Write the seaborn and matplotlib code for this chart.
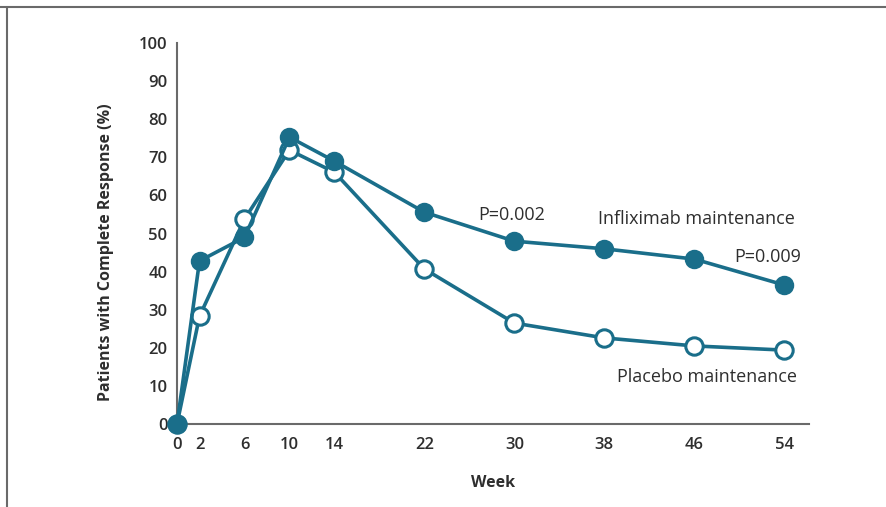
import numpy as np
import pandas as pd
import seaborn as sns
import matplotlib.pyplot as plt
from matplotlib.lines import Line2D

# values
weeks = [0, 2, 6, 10, 14, 22, 30, 38, 46, 54]
infliximab = [0, 42.8, 49.0, 75.3, 69.0, 55.6, 48.0, 46.0, 43.3, 36.5]
placebo = [0, 28.3, 53.8, 71.9, 66.1, 40.7, 26.5, 22.6, 20.5, 19.4]
y_ticks = list(range(0, 101, 10))

sns.set_style("white")
plt.rcParams['font.family'] = ['Open Sans', 'DejaVu Sans']

teal = '#1a6e8a'
grey = '#6a6a6a'
txt = '#2e2e2e'

df_inf = pd.DataFrame({'week': weeks, 'pct': infliximab})
df_pla = pd.DataFrame({'week': weeks, 'pct': placebo})

fig = plt.figure(figsize=(8.86, 5.07), dpi=100)
ax = fig.add_axes([0.1998, 0.1637, 0.913 - 0.1998, 0.915 - 0.1637])

sns.lineplot(data=df_pla, x='week', y='pct', ax=ax, color=teal, linewidth=2.6,
             marker='o', markersize=12.5, markerfacecolor='white',
             markeredgecolor=teal, markeredgewidth=2.2, clip_on=False, zorder=3)
sns.lineplot(data=df_inf, x='week', y='pct', ax=ax, color=teal, linewidth=2.6,
             marker='o', markersize=12.5, markerfacecolor=teal,
             markeredgecolor=teal, markeredgewidth=1.5, clip_on=False, zorder=4)

ax.set_xlim(0, 56.2)
ax.set_ylim(0, 100)
ax.set_xticks(weeks)
ax.set_yticks(y_ticks)
ax.tick_params(axis='both', direction='out', length=6, width=1.5, color=grey,
               labelsize=12, labelcolor=txt, pad=1)
ax.tick_params(axis='x', pad=3)
for lab in ax.get_xticklabels() + ax.get_yticklabels():
    lab.set_fontweight('semibold')

for side in ['top', 'right']:
    ax.spines[side].set_visible(False)
for side in ['left', 'bottom']:
    ax.spines[side].set_color(grey)
    ax.spines[side].set_linewidth(1.5)

ax.set_ylabel('Patients with Complete Response (%)', fontsize=11.5, fontweight='bold',
              color=txt)
ax.yaxis.set_label_coords(-0.1, 0.45)
ax.set_xlabel('Week', fontsize=11.5, fontweight='bold', color=txt, labelpad=16)

ann_size = 13
ax.text(29.8, 54.9, 'P=0.002', fontsize=ann_size, color=txt, ha='center', va='center')
ax.text(37.4, 53.8, 'Infliximab maintenance', fontsize=ann_size, color=txt, ha='left', va='center')
ax.text(49.6, 43.8, 'P=0.009', fontsize=ann_size, color=txt, ha='left', va='center')
ax.text(39.1, 12.3, 'Placebo maintenance', fontsize=ann_size, color=txt, ha='left', va='center')

# frame lines along top and left of the figure
fig.add_artist(Line2D([0, 1], [1 - 6.5 / 507, 1 - 6.5 / 507], color=grey, linewidth=1.5,
                      transform=fig.transFigure))
fig.add_artist(Line2D([6.5 / 886, 6.5 / 886], [0, 1 - 6.5 / 507], color=grey, linewidth=1.5,
                      transform=fig.transFigure))

fig.savefig('out.png', dpi=100)
